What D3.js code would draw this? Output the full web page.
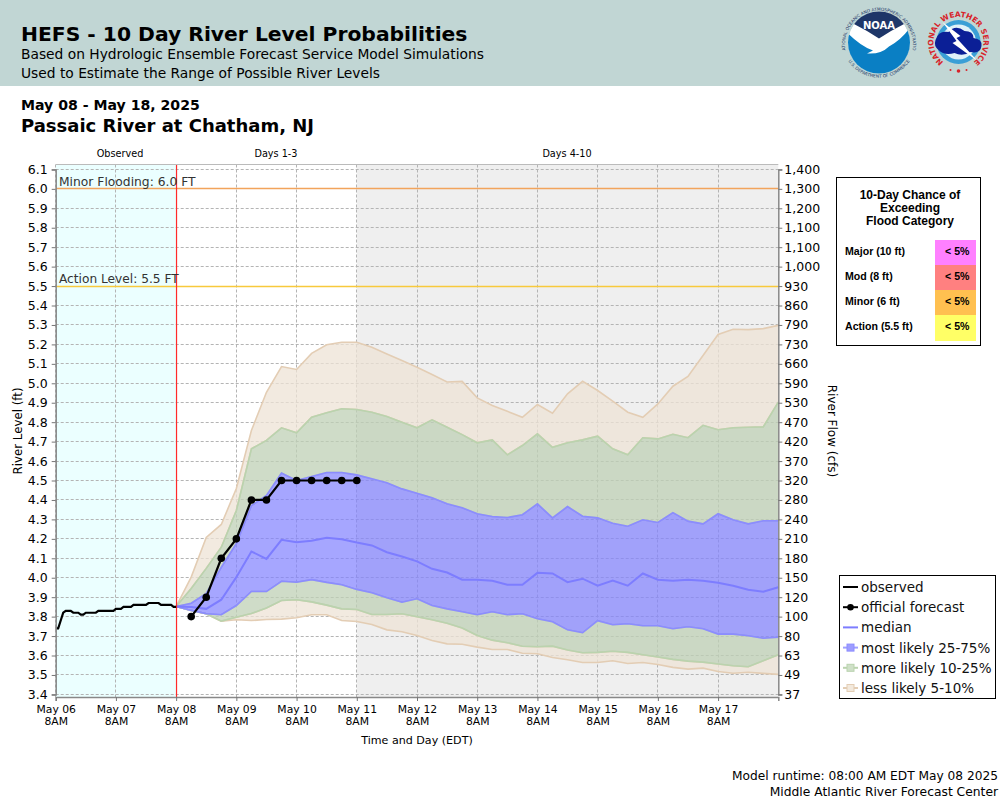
<!DOCTYPE html>
<html>
<head>
<meta charset="utf-8">
<title>HEFS - 10 Day River Level Probabilities</title>
<script src="https://cdn.jsdelivr.net/npm/d3@7"></script>
<style>
  html, body { margin: 0; padding: 0; background: #fff; }
  svg { display: block; }
  text { font-family: "DejaVu Sans", sans-serif; fill: #000; }
  .tbl text { font-family: "Liberation Sans", Arial, sans-serif; font-weight: bold; }
</style>
</head>
<body>
<div id="chart"></div>
<script>
// observed stage, hourly from May 06 8AM
var observed = [3.74,3.74,3.78,3.82,3.83,3.83,3.83,3.82,3.82,3.82,3.81,3.81,3.82,3.82,3.82,3.82,3.82,3.83,3.83,3.83,3.83,3.83,3.83,3.83,3.84,3.84,3.84,3.85,3.85,3.85,3.85,3.86,3.86,3.86,3.86,3.86,3.86,3.87,3.87,3.87,3.87,3.87,3.86,3.86,3.86,3.86,3.86,3.85,3.85];

// official forecast, 6 hourly from May 08 2PM
var official = [3.8,3.9,4.1,4.2,4.4,4.4,4.5,4.5,4.5,4.5,4.5,4.5];

// ensemble percentiles, 6 hourly from May 08 8AM
var p95 = [3.852,4.003,4.207,4.274,4.459,4.757,4.954,5.086,5.071,5.154,5.198,5.211,5.211,5.185,5.151,5.117,5.082,5.045,5.007,5.01,4.925,4.886,4.856,4.825,4.891,4.846,4.946,5.01,4.963,4.908,4.851,4.825,4.894,4.985,5.035,5.143,5.251,5.278,5.276,5.281,5.298];
var p90 = [3.852,3.945,4.048,4.157,4.346,4.663,4.706,4.771,4.745,4.825,4.848,4.869,4.865,4.851,4.829,4.8,4.771,4.812,4.774,4.736,4.694,4.709,4.632,4.68,4.74,4.671,4.694,4.709,4.728,4.663,4.632,4.72,4.714,4.738,4.72,4.784,4.761,4.771,4.774,4.776,4.903];
var p75 = [3.852,3.869,3.919,4.054,4.176,4.371,4.423,4.538,4.5,4.521,4.541,4.541,4.529,4.509,4.488,4.457,4.435,4.411,4.38,4.36,4.329,4.315,4.31,4.324,4.38,4.308,4.366,4.316,4.308,4.28,4.265,4.298,4.284,4.335,4.291,4.277,4.329,4.298,4.277,4.293,4.293];
var median = [3.852,3.849,3.84,3.887,4.003,4.135,4.097,4.195,4.183,4.19,4.205,4.198,4.181,4.166,4.131,4.109,4.084,4.046,4.027,3.99,3.99,3.984,3.964,3.964,4.025,4.022,3.977,3.995,3.959,3.986,3.959,4.022,3.99,3.984,3.99,3.984,3.974,3.959,3.938,3.928,3.951];
var p25 = [3.852,3.832,3.815,3.81,3.857,3.929,3.929,3.982,3.977,3.99,3.976,3.964,3.94,3.923,3.897,3.874,3.892,3.857,3.84,3.825,3.81,3.825,3.81,3.815,3.789,3.774,3.732,3.717,3.779,3.758,3.763,3.753,3.753,3.738,3.748,3.738,3.71,3.71,3.702,3.689,3.694];
var p10 = [3.852,3.832,3.815,3.777,3.797,3.816,3.844,3.883,3.887,3.876,3.859,3.84,3.837,3.811,3.811,3.815,3.799,3.784,3.766,3.741,3.703,3.679,3.666,3.648,3.645,3.648,3.628,3.614,3.616,3.622,3.616,3.604,3.592,3.58,3.571,3.566,3.556,3.547,3.542,3.573,3.604];
var p05 = [3.852,3.832,3.815,3.777,3.784,3.78,3.785,3.787,3.794,3.81,3.81,3.78,3.775,3.76,3.732,3.722,3.703,3.677,3.66,3.658,3.643,3.631,3.631,3.612,3.609,3.59,3.578,3.564,3.564,3.573,3.559,3.564,3.554,3.539,3.53,3.535,3.518,3.509,3.514,3.508,3.503];

// axis labels
var levelTicks = [6.1,6.0,5.9,5.8,5.7,5.6,5.5,5.4,5.3,5.2,5.1,5.0,4.9,4.8,4.7,4.6,4.5,4.4,4.3,4.2,4.1,4.0,3.9,3.8,3.7,3.6,3.5,3.4];
var flowLabels = ["1,400","1,300","1,200","1,100","1,100","1,000","930","860","790","730","660","590","530","470","420","370","320","280","240","210","180","150","120","100","80","63","49","37"];
var dayLabels = ["May 06","May 07","May 08","May 09","May 10","May 11","May 12","May 13","May 14","May 15","May 16","May 17"];

// flood table
var floodCats = ["Major (10 ft)","Mod (8 ft)","Minor (6 ft)","Action (5.5 ft)"];
var floodChance = ["< 5%","< 5%","< 5%","< 5%"];
var floodColors = ["#ff80ff","#ff8080","#ffc050","#ffff66"];

var HOUR = 3600000;
var t0 = Date.UTC(2025,4,6,8), tRun = Date.UTC(2025,4,8,8), tDay4 = Date.UTC(2025,4,11,8), tEnd = Date.UTC(2025,4,18,8);
var left = 55.7, right = 778.3, top_ = 164.5, bottom = 697;

var svg = d3.select("#chart").append("svg").attr("width",1000).attr("height",800);

var x = d3.scaleUtc().domain([t0,tEnd]).range([left,right]);
var y = d3.scaleLinear().domain([3.4,6.1]).range([694.4,169.4]);

function fcstTime(i) { return tRun + i*6*HOUR; }
function crisp(v) { return Math.floor(v)+0.5; }

// header
svg.append("rect").attr("width",1000).attr("height",86).attr("fill","#c1d6d4");
svg.append("text").attr("x",21).attr("y",41).style("font-size","20.3px").style("font-weight","bold").text("HEFS - 10 Day River Level Probabilities");
svg.append("text").attr("x",21).attr("y",59).style("font-size","13.8px").attr("fill","#111").text("Based on Hydrologic Ensemble Forecast Service Model Simulations");
svg.append("text").attr("x",21).attr("y",78).style("font-size","13.8px").attr("fill","#111").text("Used to Estimate the Range of Possible River Levels");
svg.append("text").attr("x",21).attr("y",110).style("font-size","14.1px").style("font-weight","bold").text("May 08 - May 18, 2025");
svg.append("text").attr("x",21).attr("y",131.5).style("font-size","18px").style("font-weight","bold").text("Passaic River at Chatham, NJ");

// plot background
var plot = svg.append("g");
plot.append("rect").attr("x",x(t0)).attr("y",top_).attr("width",x(tRun)-x(t0)).attr("height",bottom-top_).attr("fill","#ebffff");
plot.append("rect").attr("x",x(tDay4)).attr("y",top_).attr("width",x(tEnd)-x(tDay4)).attr("height",bottom-top_).attr("fill","#efefef");

// grid
var dayTimes = dayLabels.map(function(d,i){ return t0 + i*24*HOUR; });
plot.selectAll(".gy").data(levelTicks).enter().append("line")
  .attr("x1",left).attr("x2",right)
  .attr("y1",function(d){ return crisp(y(d)); }).attr("y2",function(d){ return crisp(y(d)); })
  .attr("stroke","#b4b4b4").attr("stroke-dasharray","3,2");
plot.selectAll(".gx").data(dayTimes).enter().append("line")
  .attr("x1",function(d){ return crisp(x(d)); }).attr("x2",function(d){ return crisp(x(d)); })
  .attr("y1",top_).attr("y2",bottom)
  .attr("stroke","#b4b4b4").attr("stroke-dasharray","3,2");

// flood levels
plot.append("line").attr("x1",left).attr("x2",right).attr("y1",crisp(y(6.0))).attr("y2",crisp(y(6.0))).attr("stroke","#f2a45c").attr("stroke-width",1.6);
plot.append("line").attr("x1",left).attr("x2",right).attr("y1",crisp(y(5.5))).attr("y2",crisp(y(5.5))).attr("stroke","#f8c93c").attr("stroke-width",1.6);

// probability bands
var area = d3.area().x(function(d,i){ return x(fcstTime(i)); }).y0(function(d){ return y(d[0]); }).y1(function(d){ return y(d[1]); });
var line = d3.line().x(function(d,i){ return x(fcstTime(i)); }).y(function(d){ return y(d); });

var bands = [
  {lo:p90, hi:p95, fill:"#eee3d6", op:0.75, stroke:"#e3cdb4"},
  {lo:p05, hi:p10, fill:"#eee3d6", op:0.75, stroke:"#e3cdb4"},
  {lo:p75, hi:p90, fill:"#bfd0b6", op:0.75, stroke:"#bad3ae"},
  {lo:p10, hi:p25, fill:"#bfd0b6", op:0.75, stroke:"#bad3ae"},
  {lo:p25, hi:p75, fill:"#8080ff", op:0.7, stroke:"#8c8cff"}
];
bands.forEach(function(b){
  plot.append("path").datum(d3.zip(b.lo,b.hi)).attr("d",area).attr("fill",b.fill).attr("fill-opacity",b.op);
  plot.append("path").datum(b.hi).attr("d",line).attr("fill","none").attr("stroke",b.stroke).attr("stroke-width",1.6);
  plot.append("path").datum(b.lo).attr("d",line).attr("fill","none").attr("stroke",b.stroke).attr("stroke-width",1.6);
});
plot.append("path").datum(median).attr("d",line).attr("fill","none").attr("stroke","#7d7dff").attr("stroke-width",2);

// run time marker
plot.append("line").attr("x1",x(tRun)+0.4).attr("x2",x(tRun)+0.4).attr("y1",top_).attr("y2",bottom).attr("stroke","#ff2a2a").attr("stroke-width",1.2);

plot.append("text").attr("x",59).attr("y",186).style("font-size","12.3px").style("fill","#333").text("Minor Flooding: 6.0 FT");
plot.append("text").attr("x",59).attr("y",283).style("font-size","12.2px").style("fill","#333").text("Action Level: 5.5 FT");

// observed
var obsLine = d3.line().x(function(d,i){ return x(t0 + i*HOUR); }).y(function(d){ return y(d); });
plot.append("path").datum(observed).attr("d",obsLine).attr("fill","none").attr("stroke","#000").attr("stroke-width",2.2);

// official forecast
var offLine = d3.line().x(function(d,i){ return x(fcstTime(i+1)); }).y(function(d){ return y(d); });
plot.append("path").datum(official).attr("d",offLine).attr("fill","none").attr("stroke","#000").attr("stroke-width",2.2);
plot.selectAll(".off").data(official).enter().append("circle")
  .attr("cx",function(d,i){ return x(fcstTime(i+1)); }).attr("cy",function(d){ return y(d); }).attr("r",3.8).attr("fill","#000");

// frame and axes
svg.append("line").attr("x1",left).attr("x2",right).attr("y1",top_).attr("y2",top_).attr("stroke","#bbb");

var axL = svg.append("g").attr("transform","translate("+left+",0)")
  .call(d3.axisLeft(y).tickValues(levelTicks).tickFormat(d3.format(".1f")).tickSize(4).tickPadding(4));
var axR = svg.append("g").attr("transform","translate("+right+",0)")
  .call(d3.axisRight(y).tickValues(levelTicks).tickFormat(function(d,i){ return flowLabels[i]; }).tickSize(4).tickPadding(2));
var axB = svg.append("g").attr("transform","translate(0,"+bottom+")")
  .call(d3.axisBottom(x).tickValues(dayTimes).tickFormat(function(d,i){ return dayLabels[i]; }).tickSize(4).tickPadding(4));
[axL,axR,axB].forEach(function(a){
  a.select(".domain").attr("stroke","#888").attr("stroke-width",1.5);
  a.selectAll(".tick line").attr("stroke","#777");
  a.selectAll("text").style("font-family",'"DejaVu Sans", sans-serif').attr("fill","#000");
});
axL.selectAll("text").style("font-size","12.5px");
axR.selectAll("text").style("font-size","12.5px");
axB.selectAll("text").style("font-size","10.8px");
axB.selectAll(".tick").append("text").attr("y",20).attr("dy","0.71em").attr("text-anchor","middle").attr("fill","#000")
  .style("font-size","10.8px").text("8AM");

// axis titles
svg.append("text").attr("transform","translate(22,431) rotate(-90)").attr("text-anchor","middle").style("font-size","11.8px").text("River Level (ft)");
svg.append("text").attr("transform","translate(828,431) rotate(90)").attr("text-anchor","middle").style("font-size","12px").text("River Flow (cfs)");
svg.append("text").attr("x",417).attr("y",744).attr("text-anchor","middle").style("font-size","11.1px").text("Time and Day (EDT)");

var periods = [{t:"Observed",x:120},{t:"Days 1-3",x:276},{t:"Days 4-10",x:567}];
svg.selectAll(".period").data(periods).enter().append("text")
  .attr("x",function(d){ return d.x; }).attr("y",157).attr("text-anchor","middle").style("font-size","9.7px").text(function(d){ return d.t; });

// flood category table
var tbl = svg.append("g").attr("class","tbl");
tbl.append("rect").attr("x",836.5).attr("y",177.5).attr("width",144).attr("height",168).attr("fill","#fff").attr("stroke","#000");
["10-Day Chance of","Exceeding","Flood Category"].forEach(function(s,i){
  tbl.append("text").attr("x",910).attr("y",199+i*13).attr("text-anchor","middle").style("font-size","12px").text(s);
});
floodCats.forEach(function(c,i){
  var yy = 240 + i*25;
  tbl.append("rect").attr("x",935).attr("y",yy).attr("width",41).attr("height",i==3?26:25).attr("fill",floodColors[i]);
  tbl.append("text").attr("x",845).attr("y",yy+15).style("font-size","10.6px").text(c);
  tbl.append("text").attr("x",969.5).attr("y",yy+15).attr("text-anchor","end").style("font-size","10.6px").text(floodChance[i]);
});

// legend
var legendItems = [
  {label:"observed", stroke:"#000", sw:2},
  {label:"official forecast", stroke:"#000", sw:2, dot:"#000"},
  {label:"median", stroke:"#7d7dff", sw:2},
  {label:"most likely 25-75%", stroke:"#a0a0ff", sw:2, box:"#9d9dff", boxStroke:"#8c8cff"},
  {label:"more likely 10-25%", stroke:"#bad3ae", sw:2, box:"#cfe0c8", boxStroke:"#bad3ae"},
  {label:"less likely 5-10%", stroke:"#e3cdb4", sw:2, box:"#f2e9dd", boxStroke:"#e3cdb4"}
];
var leg = svg.append("g");
leg.append("rect").attr("x",839.5).attr("y",575.5).attr("width",156).attr("height",123).attr("fill","#fff").attr("stroke","#000");
legendItems.forEach(function(d,i){
  var yy = 587 + i*20.2;
  leg.append("line").attr("x1",843).attr("x2",858).attr("y1",yy).attr("y2",yy).attr("stroke",d.stroke).attr("stroke-width",d.sw);
  if (d.dot) leg.append("circle").attr("cx",850.5).attr("cy",yy).attr("r",3.3).attr("fill",d.dot);
  if (d.box) leg.append("rect").attr("x",847).attr("y",yy-3.5).attr("width",7).attr("height",7).attr("fill",d.box).attr("stroke",d.boxStroke);
  leg.append("text").attr("x",861).attr("y",yy+5).style("font-size","13.5px").style("fill","#111").text(d.label);
});

// footer
svg.append("text").attr("x",998).attr("y",780).attr("text-anchor","end").style("font-size","12.2px").text("Model runtime: 08:00 AM EDT May 08 2025");
svg.append("text").attr("x",998).attr("y",796).attr("text-anchor","end").style("font-size","12.3px").text("Middle Atlantic River Forecast Center");

// NOAA logo
var defs = svg.append("defs");
var noaa = svg.append("g").attr("transform","translate(879,42.5)");
defs.append("clipPath").attr("id","noaaClip").append("circle").attr("r",31);
defs.append("path").attr("id","noaaTop").attr("d","M-33.5,8 A34,34 0 1 1 33.5,8");
defs.append("path").attr("id","noaaBot").attr("d","M-31,18 A36.5,36.5 0 0 0 31,18");
var noaaIn = noaa.append("g").attr("clip-path","url(#noaaClip)");
noaaIn.append("circle").attr("r",31).attr("fill","#fff");
noaaIn.append("path").attr("d","M-32,-32 H32 V-20 L26,-19 Q12,-12 0,-4 Q-12,-12 -26,-19 L-32,-20 Z").attr("fill","#1e3668");
noaaIn.append("path").attr("d","M-32,-10 Q-18,4 -6,8 L-12,11 Q2,12 10,4 Q22,-2 32,-16 V32 H-32 Z").attr("fill","#0a7fc4");
noaa.append("text").attr("x",0).attr("y",-14).attr("text-anchor","middle").style("font-size","10px").style("font-weight","bold").style("fill","#fff").text("NOAA");
noaa.append("text").style("font-size","4.3px").style("fill","#1e3668").append("textPath").attr("href","#noaaTop").attr("startOffset","50%").attr("text-anchor","middle").text("NATIONAL OCEANIC AND ATMOSPHERIC ADMINISTRATION");
noaa.append("text").style("font-size","4.3px").style("fill","#1e3668").append("textPath").attr("href","#noaaBot").attr("startOffset","50%").attr("text-anchor","middle").text("U.S. DEPARTMENT OF COMMERCE");

// NWS logo
var nws = svg.append("g").attr("transform","translate(958.5,42)");
defs.append("path").attr("id","nwsRing").attr("d","M-16,19.2 A25,25 0 1 1 16,19.2");
nws.append("circle").attr("r",22).attr("fill","#3a9fd6");
nws.append("circle").attr("r",17.5).attr("fill","#dff1f8");
nws.append("path").attr("d","M-23,-2 Q-20,-12 -10,-10 Q-3,-18 6,-11 Q15,-11 15,-4 Q24,-3 23,4 Q22,12 12,10 Q4,15 -4,11 Q-14,14 -20,8 Q-25,4 -23,-2 Z").attr("fill","#0b1f96");
nws.append("path").attr("d","M-16,-20 L2,-6 L-2,-4 L19,19 L-6,1 L-2,-1 Z").attr("fill","#fff");
nws.append("text").style("font-size","7.5px").style("font-weight","bold").style("fill","#d8232a").append("textPath").attr("href","#nwsRing").attr("startOffset","50%").attr("text-anchor","middle").text("NATIONAL WEATHER SERVICE");
nws.selectAll(".star").data([-8,0,8]).enter().append("circle").attr("cx",function(d){ return d; }).attr("cy",function(d){ return d==0 ? 29 : 28; }).attr("r",function(d){ return d==0 ? 1.8 : 1; }).attr("fill","#d8232a");
</script>
</body>
</html>
